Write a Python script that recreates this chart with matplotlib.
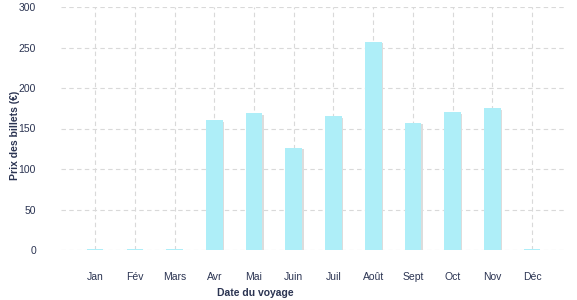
import matplotlib
matplotlib.use("Agg")
import matplotlib.pyplot as plt
import matplotlib.transforms as mtransforms

months = ["Jan", "Fév", "Mars", "Avr", "Mai", "Juin", "Juil", "Août", "Sept", "Oct", "Nov", "Déc"]
prices = [1, 1, 1, 160, 169, 126, 165, 257, 157, 170, 175, 1]
yticks = [0, 50, 100, 150, 200, 250, 300]

plt.rcParams['font.family'] = ['Liberation Sans', 'DejaVu Sans']
text_color = "#2b3452"
bar_color = "#aeeef8"

fig = plt.figure(figsize=(5.77, 3.0), dpi=100)
ax = fig.add_axes([61/577, 1 - 250/300, (567-61)/577, (250-7)/300])

x = list(range(len(months)))
width = 0.42
shadow_tr = mtransforms.offset_copy(ax.transData, fig=fig, x=1.5, y=-1.5, units='dots')
ax.bar(x, prices, width=width, color="#dcdcdc", transform=shadow_tr, zorder=2)
ax.bar(x, prices, width=width, color=bar_color, zorder=3)

ax.set_xlim(-0.86, 11.88)
ax.set_ylim(0, 300)
ax.set_yticks(yticks)
ax.set_xticks(x)
ax.set_xticklabels(months)

ax.grid(True, color="#d9d9d9", linestyle=(0, (4, 3)), linewidth=0.8, zorder=0)
for s in ax.spines.values():
    s.set_visible(False)
ax.tick_params(axis='both', length=0, labelsize=7.5, colors=text_color)
ax.tick_params(axis='x', pad=16)
ax.tick_params(axis='y', pad=18)
ax.set_clip_on(False)

fig.text(255/577, 1 - 293/300, "Date du voyage", ha='center', va='center',
         fontsize=7.5, fontweight='bold', color=text_color)
fig.text(15/577, 1 - 135/300, "Prix des billets (€)", ha='center', va='center',
         rotation=90, fontsize=7.5, fontweight='bold', color=text_color)

fig.savefig("out.png", dpi=100)
